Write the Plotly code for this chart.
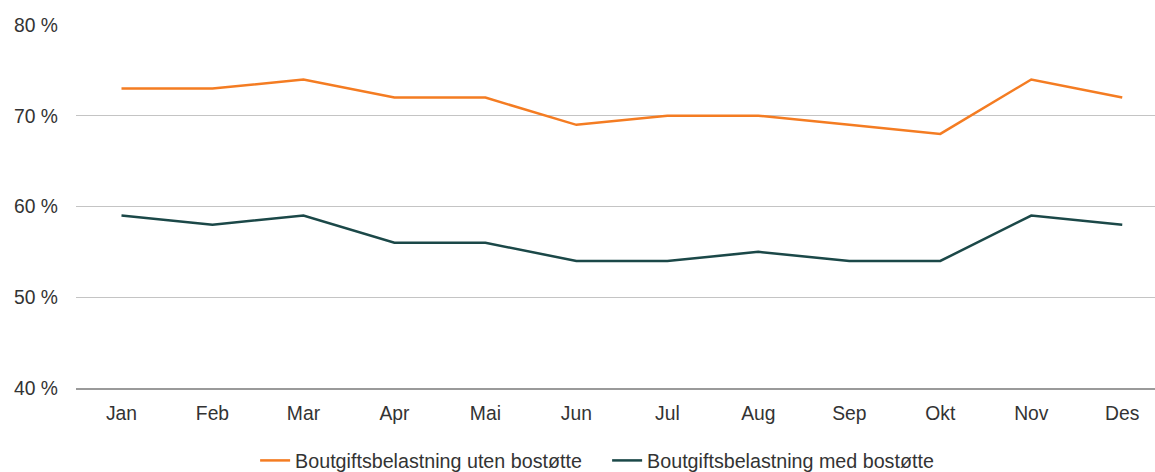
import plotly.graph_objects as go

months = ["Jan", "Feb", "Mar", "Apr", "Mai", "Jun", "Jul", "Aug", "Sep", "Okt", "Nov", "Des"]
uten_bostotte = [73, 73, 74, 72, 72, 69, 70, 70, 69, 68, 74, 72]
med_bostotte = [59, 58, 59, 56, 56, 54, 54, 55, 54, 54, 59, 58]
y_ticks = [40, 50, 60, 70, 80]
y_tick_labels = ["40 %", "50 %", "60 %", "70 %", "80 %"]

fig = go.Figure()
fig.add_trace(go.Scatter(
    x=months, y=uten_bostotte, mode="lines",
    name="Boutgiftsbelastning uten bostøtte",
    line=dict(color="#F47C22", width=2.5),
))
fig.add_trace(go.Scatter(
    x=months, y=med_bostotte, mode="lines",
    name="Boutgiftsbelastning med bostøtte",
    line=dict(color="#1B4848", width=2.5),
))

fig.update_layout(
    width=1155, height=472,
    margin=dict(l=76, r=0, t=25, b=84, autoexpand=False),
    plot_bgcolor="white", paper_bgcolor="white",
    font=dict(family="Liberation Sans, Arial, sans-serif", size=19.3, color="#333333"),
    showlegend=True,
    legend=dict(orientation="h", x=0.166, xanchor="left", y=-0.2, yanchor="middle",
                font=dict(size=19.7, color="#333333"), itemwidth=30, tracegroupgap=0,
                entrywidth=307, entrywidthmode="pixels", bgcolor="rgba(0,0,0,0)"),
)
fig.update_xaxes(
    type="category", range=[-0.5, 11.36], automargin=False,
    showgrid=False, showline=True, linecolor="#9a9a9a", linewidth=1.5,
    ticks="", ticklabelstandoff=7,
)
fig.update_yaxes(
    range=[40, 80], tickmode="array", tickvals=y_ticks, ticktext=y_tick_labels,
    automargin=False,
    showgrid=True, gridcolor="#c4c4c4", gridwidth=1.2,
    zeroline=False, showline=False, ticks="", ticklabelstandoff=17,
)

fig.write_html("out.html")
